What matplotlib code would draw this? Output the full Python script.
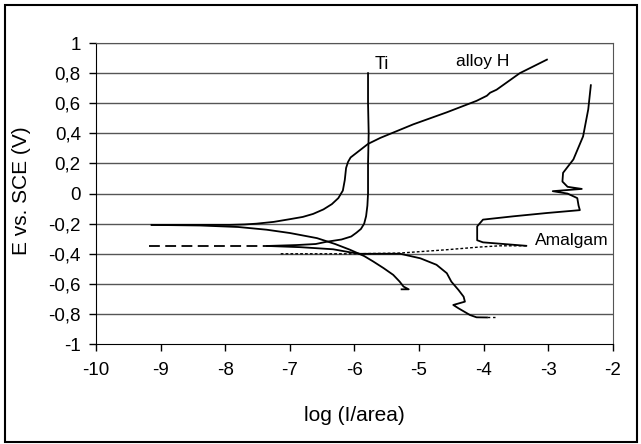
# polarisation curves: Ti, alloy H, amalgam
import numpy as np
import matplotlib.pyplot as plt
from matplotlib.patches import Rectangle

plt.rcParams['font.family'] = ['Liberation Sans', 'DejaVu Sans']

# alloy H, anodic branch
alloyH_x = [-9.14, -7.93, -7.7, -7.52, -7.25, -7.0, -6.8, -6.64, -6.48, -6.35, -6.25, -6.18,
            -6.15, -6.13, -6.10, -6.06, -5.97, -5.88, -5.79, -5.60, -5.09, -4.57, -4.11,
            -3.95, -3.90, -3.80, -3.44, -3.02]
alloyH_y = [-0.208, -0.208, -0.205, -0.2, -0.188, -0.17, -0.155, -0.135, -0.105, -0.07, -0.03,
            0.02, 0.09, 0.17, 0.21, 0.24, 0.27, 0.30, 0.33, 0.37, 0.46, 0.54, 0.616,
            0.65, 0.67, 0.69, 0.80, 0.89]
# alloy H, cathodic branch
alloyHc_x = [-9.14, -8.39, -7.8, -7.36, -7.0, -6.58, -6.3, -6.07, -5.85, -5.71, -5.55, -5.40,
             -5.30, -5.24, -5.16, -5.27]
alloyHc_y = [-0.208, -0.212, -0.222, -0.24, -0.262, -0.296, -0.335, -0.373, -0.415, -0.451,
             -0.495, -0.54, -0.585, -0.618, -0.636, -0.636]

# Ti: dashed start, anodic and cathodic branches
tiDash_x = [-9.18, -7.35]
tiDash_y = [-0.348, -0.348]
ti_x = [-7.35, -6.9, -6.6, -6.43, -6.2, -6.05, -5.97, -5.90, -5.85, -5.82, -5.80, -5.79,
        -5.79, -5.78, -5.79, -5.79]
ti_y = [-0.348, -0.342, -0.335, -0.32, -0.305, -0.285, -0.26, -0.235, -0.2, -0.15, -0.08, 0.0,
        0.2, 0.4, 0.6, 0.8]
tic_x = [-7.35, -6.84, -6.33, -6.07, -5.91, -5.6, -5.29, -4.98, -4.73, -4.57, -4.50, -4.39,
         -4.31, -4.29, -4.47, -4.39, -4.21, -4.11, -3.95]
tic_y = [-0.348, -0.356, -0.37, -0.39, -0.40, -0.40, -0.40, -0.43, -0.473, -0.529, -0.585,
         -0.64, -0.685, -0.718, -0.74, -0.762, -0.807, -0.822, -0.823]
ticTail_x = [-3.95, -3.82]
ticTail_y = [-0.823, -0.823]

# amalgam
amal_x = [-2.34, -2.38, -2.46, -2.61, -2.77, -2.78, -2.70, -2.48, -2.93, -2.70, -2.55, -2.53,
          -2.51, -3.02, -3.54, -4.01, -4.10, -4.10, -4.01, -3.34]
amal_y = [0.72, 0.56, 0.38, 0.227, 0.138, 0.08, 0.045, 0.031, 0.016, 0.0, -0.03, -0.08,
          -0.11, -0.129, -0.151, -0.173, -0.218, -0.31, -0.324, -0.347]
amalDot_x = [-3.34, -3.75, -4.06, -4.57, -5.29, -6.0, -7.15]
amalDot_y = [-0.347, -0.347, -0.355, -0.373, -0.395, -0.40, -0.40]

xticks = [-10, -9, -8, -7, -6, -5, -4, -3, -2]
yticks = [-1, -0.8, -0.6, -0.4, -0.2, 0, 0.2, 0.4, 0.6, 0.8, 1]
ytick_labels = ['-1', '-0,8', '-0,6', '-0,4', '-0,2', '0', '0,2', '0,4', '0,6', '0,8', '1']

fig = plt.figure(figsize=(6.41, 4.44), dpi=100)
ax = fig.add_axes([0.150, 0.225, 0.806, 0.678])

for yv in yticks[1:]:
    ax.axhline(yv, color='#555555', lw=1.0, zorder=1)

lw = 1.3
ax.plot(alloyH_x, alloyH_y, color='black', lw=lw, zorder=3)
ax.plot(alloyHc_x, alloyHc_y, color='black', lw=lw, zorder=3)
ax.plot(tiDash_x, tiDash_y, color='black', lw=lw, ls=(0, (6, 3)), zorder=3)
ax.plot(ti_x, ti_y, color='black', lw=lw, zorder=3)
ax.plot(tic_x, tic_y, color='black', lw=lw, zorder=3)
ax.plot(ticTail_x, ticTail_y, color='black', lw=1.0, ls=(0, (2, 2)), zorder=3)
ax.plot(amal_x, amal_y, color='black', lw=lw, zorder=3)
ax.plot(amalDot_x, amalDot_y, color='black', lw=1.0, ls=(0, (2, 1.5)), zorder=3)

ax.text(-5.57, 0.855, 'Ti', fontsize=13, ha='center', va='center')
ax.text(-4.02, 0.875, 'alloy H', fontsize=12.5, ha='center', va='center')
ax.text(-2.63, -0.315, 'Amalgam', fontsize=12.5, ha='center', va='center')

ax.set_xlim(-10, -2)
ax.set_ylim(-1, 1)
ax.set_xticks(xticks)
ax.set_xticklabels([str(v) for v in xticks])
ax.set_yticks(yticks)
ax.set_yticklabels(ytick_labels)
ax.tick_params(axis='both', labelsize=13.5, length=5, width=1, direction='out')
ax.tick_params(axis='y', pad=6)
ax.tick_params(axis='x', pad=8)

for side in ['right', 'top']:
    ax.spines[side].set_color('#555555')
ax.spines['left'].set_color('black')
ax.spines['bottom'].set_color('black')

ax.set_xlabel('log (I/area)', fontsize=15)
ax.set_ylabel('E vs. SCE (V)', fontsize=15)
ax.xaxis.set_label_coords(0.5, -0.205)
ax.yaxis.set_label_coords(-0.126, 0.508)

# outer chart border
fig.patches.append(Rectangle((0.008, 0.005), 0.986, 0.984, transform=fig.transFigure,
                             fill=False, edgecolor='black', lw=1.5))

fig.savefig('out.png', dpi=100)
